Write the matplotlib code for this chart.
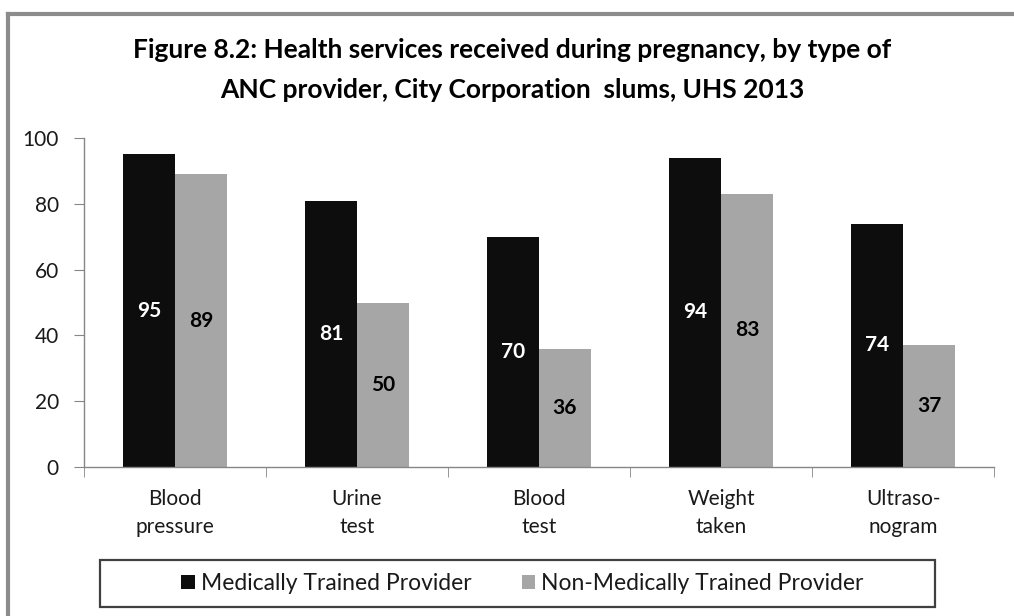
import matplotlib
matplotlib.use("Agg")
import matplotlib.pyplot as plt
from matplotlib.lines import Line2D
from matplotlib.patches import Rectangle
import numpy as np

plt.rcParams["font.family"] = ["Lato", "DejaVu Sans"]

# ── Data ─────────────────────────────────────────────────────────────
categories = ["Blood\npressure", "Urine\ntest", "Blood\ntest", "Weight\ntaken", "Ultraso-\nnogram"]
medically_trained = [95, 81, 70, 94, 74]
non_medically_trained = [89, 50, 36, 83, 37]
series_names = ["Medically Trained Provider", "Non-Medically Trained Provider"]
yticks = [0, 20, 40, 60, 80, 100]
title = ("Figure 8.2: Health services received during pregnancy, by type of\n"
         "ANC provider, City Corporation  slums, UHS 2013")

BLACK = "#0d0d0d"
GRAY = "#a6a6a6"
AXIS = "#868686"
TEXT = "#1a1a1a"

fig = plt.figure(figsize=(10.14, 6.16), dpi=100)
ax = fig.add_axes([0.0828, 0.2419, 0.8975, 0.534])

x = np.arange(len(categories))
w = 0.285
b1 = ax.bar(x - w / 2, medically_trained, w, color=BLACK, label=series_names[0])
b2 = ax.bar(x + w / 2, non_medically_trained, w, color=GRAY, label=series_names[1])

for rect, v in zip(b1, medically_trained):
    ax.text(rect.get_x() + rect.get_width() / 2, v / 2, str(v), ha="center", va="center",
            color="white", fontsize=15, fontweight="bold")
for rect, v in zip(b2, non_medically_trained):
    ax.text(rect.get_x() + rect.get_width() / 2, v / 2, str(v), ha="center", va="center",
            color="black", fontsize=15, fontweight="bold")

ax.set_xlim(-0.5, len(categories) - 0.5)
ax.set_ylim(0, 100)
ax.set_yticks(yticks)
ax.set_yticklabels([str(t) for t in yticks], fontsize=15, color=TEXT)
ax.set_xticks(x)
ax.set_xticklabels(categories, fontsize=15, color=TEXT, linespacing=1.5)
ax.tick_params(axis="x", length=0, pad=16)
ax.tick_params(axis="y", length=7, color=AXIS, pad=11)
# category boundary ticks
ax.set_xticks(np.arange(len(categories) + 1) - 0.5, minor=True)
ax.tick_params(axis="x", which="minor", length=7, color=AXIS, direction="out")

for s in ["top", "right"]:
    ax.spines[s].set_visible(False)
for s in ["left", "bottom"]:
    ax.spines[s].set_color(AXIS)
    ax.spines[s].set_linewidth(1)

fig.text(0.505, 0.887, title, ha="center", va="center", fontsize=19,
         fontweight="bold", linespacing=1.8)

# legend box drawn separately (Excel-style wide padding)
fig.add_artist(Rectangle((0.0986, 0.0146), 0.8235, 0.0763, transform=fig.transFigure,
                         facecolor="white", edgecolor="#404040", lw=1.6, zorder=2))
leg = fig.legend(handles=[b1, b2], loc="center", bbox_to_anchor=(0.515, 0.0528),
                 ncol=2, fontsize=16.5, frameon=False,
                 handlelength=0.6, handleheight=0.6, handletextpad=0.25,
                 columnspacing=2.2, borderpad=0.3)
leg.set_zorder(3)
for t in leg.get_texts():
    t.set_color(TEXT)

# outer frame (top and left edges visible)
fig.add_artist(Line2D([0.008, 1.0], [0.977, 0.977], color="#8c8c8c", lw=3,
                      transform=fig.transFigure))
fig.add_artist(Line2D([0.008, 0.008], [0.0, 0.977], color="#8c8c8c", lw=3,
                      transform=fig.transFigure))

fig.savefig("out.png", dpi=100)
